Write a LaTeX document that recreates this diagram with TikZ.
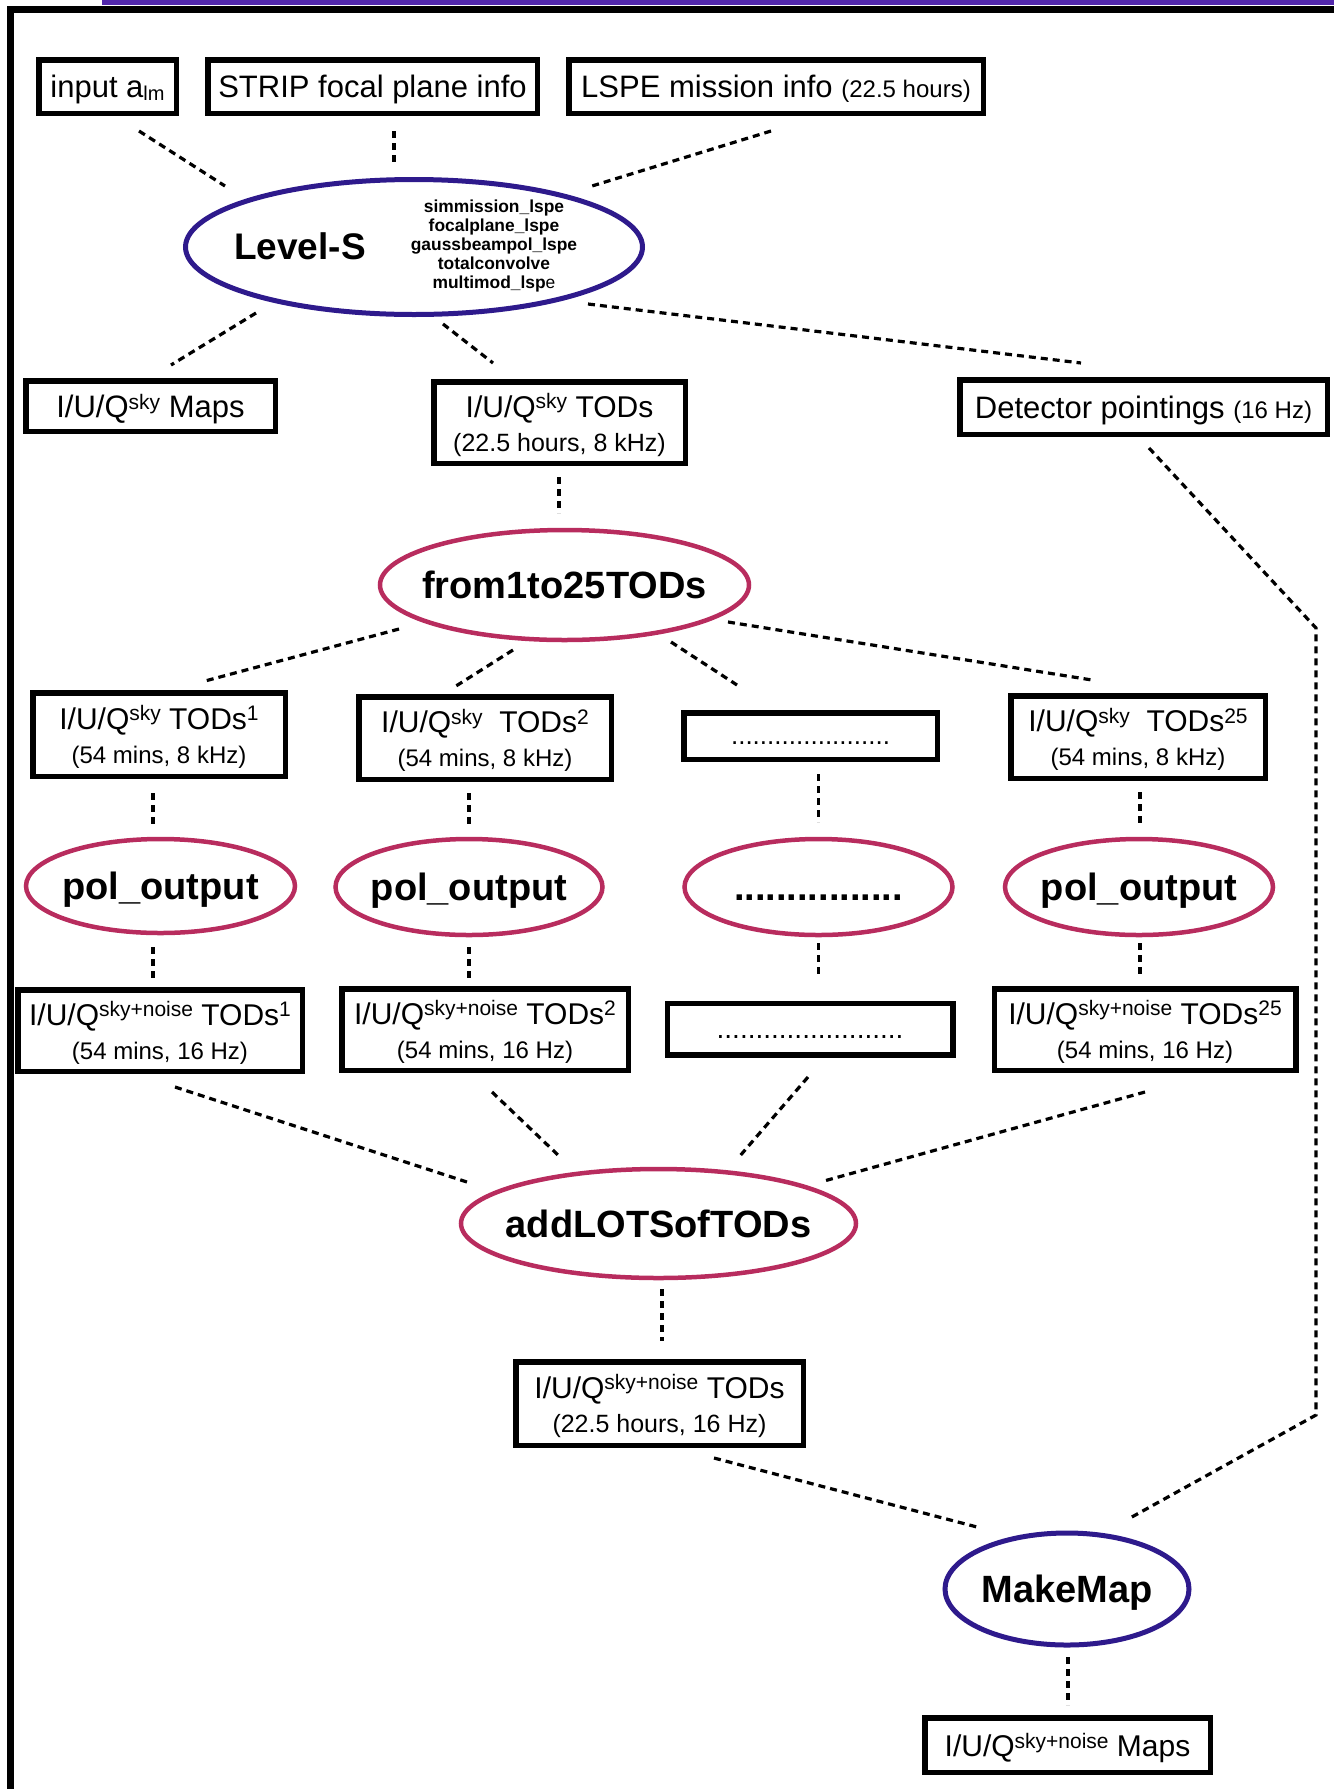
\documentclass[tikz,border=0pt]{standalone}
\usepackage{fontspec}
\setmainfont{Liberation Sans}
\usetikzlibrary{shapes.geometric,calc}
\definecolor{lsblue}{RGB}{46,26,140}
\definecolor{lsred}{RGB}{184,44,94}
\definecolor{lsbar}{RGB}{82,40,172}
\newcommand\fsz[1]{\fontsize{#1}{#1}\selectfont}
\newcommand\supx[1]{\raisebox{0.28em}{\fontsize{21}{21}\selectfont #1}}
\newcommand\subx[1]{\raisebox{-0.1em}{\fontsize{20}{20}\selectfont #1}}
\begin{document}
\begin{tikzpicture}[x=1pt,y=-1pt,
  box/.style={draw=black, line width=5.5pt, inner sep=0pt, align=center, text depth=0pt, font=\fontsize{30}{34}\selectfont},
  topbox/.style={box, font=\fontsize{31}{34}\selectfont},
  ellb/.style={ellipse, draw=lsblue, line width=5pt, inner sep=0pt, text depth=0pt, font=\bfseries\fontsize{38}{38}\selectfont},
  ellr/.style={ellipse, draw=lsred, line width=4.5pt, inner sep=0pt, text depth=0pt, font=\bfseries\fontsize{38}{38}\selectfont},
  conn/.style={line width=3.2pt, dash pattern=on 7pt off 5pt},
  lab/.style={inner sep=0pt, align=center}]

\useasboundingbox (0,0) rectangle (1334,1789);
\fill[lsbar] (102,0) rectangle (1334,4.5);
\draw[line width=7pt] (10.5,1789) -- (10.5,9.5) -- (1334,9.5);

% top row
\node[topbox, minimum width=137.5pt, minimum height=53.5pt] (inp) at (107.5,86.5) {input a\subx{lm}};
\node[topbox, minimum width=329.5pt, minimum height=53.5pt] (strip) at (372.5,86.5) {STRIP focal plane info};
\node[topbox, minimum width=414.5pt, minimum height=53.5pt] (lspe) at (776,86.5) {LSPE mission info {\fsz{24}(22.5 hours)}};

% Level-S
\node[ellb, minimum width=457pt, minimum height=135pt] (levs) at (414,247) {};
\node[lab, font=\bfseries\fsz{37}] (levtitle) at ($(levs)+(-114,-1)$) {Level-S};
\node[lab, font=\bfseries\fontsize{17.4}{19}\selectfont] (levlist) at ($(levs)+(80,-1)$)
  {simmission\_lspe\\focalplane\_lspe\\gaussbeampol\_lspe\\totalconvolve\\multimod\_lsp{\mdseries e}};

% second row
\node[topbox, minimum width=249.5pt, minimum height=50.5pt] (maps) at (150.5,406) {I/U/Q\supx{sky} Maps};
\node[box, minimum width=251.5pt, minimum height=81.5pt] (todsA) at (559.5,422.5) {I/U/Q\supx{sky} TODs\\{\fsz{25}(22.5 hours, 8 kHz)}};
\node[topbox, minimum width=367.5pt, minimum height=54.5pt] (det) at (1143.5,407) {Detector pointings {\fsz{24}(16 Hz)}};

% from1to25TODs
\node[ellr, minimum width=369pt, minimum height=110pt] (f25) at (564.5,585) {\makebox[0pt]{from1to25TODs}};

% split TODs
\node[box, minimum width=252.5pt, minimum height=83.5pt] (t1) at (159,734.5) {I/U/Q\supx{sky} TODs\supx{1}\\{\fsz{24}(54 mins, 8 kHz)}};
\node[box, minimum width=252.5pt, minimum height=82.5pt] (t2) at (485,738) {I/U/Q\supx{sky}\ \ TODs\supx{2}\\{\fsz{24}(54 mins, 8 kHz)}};
\node[box, minimum width=253.5pt, minimum height=46.5pt] (tdots) at (810.5,736) {\fsz{26}\vphantom{Ag}......................};
\node[box, minimum width=254.5pt, minimum height=82.5pt] (t25) at (1138,737) {I/U/Q\supx{sky}\ \ TODs\supx{25}\\{\fsz{24}(54 mins, 8 kHz)}};

% pol_output
\node[ellr, minimum width=269pt, minimum height=94pt] (p1) at (160.5,886) {\makebox[0pt]{pol\_output}};
\node[ellr, minimum width=267pt, minimum height=96pt] (p2) at (469,887) {\makebox[0pt]{pol\_output}};
\node[ellr, minimum width=268pt, minimum height=96pt] (pdots) at (818.5,887) {\makebox[0pt]{\vphantom{pol}................}};
\node[ellr, minimum width=268pt, minimum height=96pt] (p25) at (1139,887) {\makebox[0pt]{pol\_output}};

% noise TODs
\node[box, minimum width=284.5pt, minimum height=81.5pt] (n1) at (160,1030.5) {I/U/Q\supx{sky+noise} TODs\supx{1}\\{\fsz{24}(54 mins, 16 Hz)}};
\node[box, minimum width=286.5pt, minimum height=81.5pt] (n2) at (485,1029.5) {I/U/Q\supx{sky+noise} TODs\supx{2}\\{\fsz{24}(54 mins, 16 Hz)}};
\node[box, minimum width=285.5pt, minimum height=51.5pt] (ndots) at (810,1029) {\fsz{28}\vphantom{Ag}........................};
\node[box, minimum width=301.5pt, minimum height=81.5pt] (n25) at (1145,1029.5) {I/U/Q\supx{sky+noise} TODs\supx{25}\\{\fsz{24}(54 mins, 16 Hz)}};

% addLOTSofTODs
\node[ellr, minimum width=395pt, minimum height=109pt] (add) at (658.5,1223.5) {\makebox[0pt]{addLOTSofTODs}};
\node[box, minimum width=287.5pt, minimum height=83.5pt] (nall) at (659.5,1403.5) {I/U/Q\supx{sky+noise} TODs\\{\fsz{25}(22.5 hours, 16 Hz)}};

% MakeMap
\node[ellb, minimum width=244pt, minimum height=112pt] (mm) at (1067,1589) {\makebox[0pt]{MakeMap}};
\node[box, minimum width=285.5pt, minimum height=54.5pt] (maps2) at (1067.5,1745) {I/U/Q\supx{sky+noise} Maps};

% connectors
\draw[conn] ($(inp)+(31.5,44.5)$) -- ($(levs)+(-189,-61)$);
\draw[conn] ($(strip)+(21.5,44.5)$) -- ($(levs)+(-20,-82)$);
\draw[conn] ($(lspe)+(-5,44.5)$) -- ($(levs)+(178,-61)$);
\draw[conn] ($(levs)+(-158,66)$) -- ($(maps)+(20.5,-41)$);
\draw[conn] ($(levs)+(29,77)$) -- ($(todsA)+(-66.5,-59.5)$);
\draw[conn] ($(levs)+(174,57)$) -- ($(det)+(-62.5,-44)$);
\draw[conn] ($(todsA)+(-0.5,54.5)$) -- ($(f25)+(-5.5,-72)$);
\draw[conn] ($(f25)+(-165.5,44)$) -- ($(t1)+(46,-53.5)$);
\draw[conn] ($(f25)+(-51.5,65)$) -- ($(t2)+(-29,-52)$);
\draw[conn] ($(f25)+(106.5,57)$) -- ($(tdots)+(-73.5,-51)$);
\draw[conn] ($(f25)+(163.5,37)$) -- ($(t25)+(-46,-57)$);
\draw[conn] ($(t1)+(-6,58.5)$) -- ($(p1)+(-7.5,-59)$);
\draw[conn] ($(p1)+(-7.5,61)$) -- ($(n1)+(-7,-50.5)$);
\draw[conn] ($(t2)+(-16,55)$) -- ($(p2)+(0,-60)$);
\draw[conn] ($(p2)+(0,60)$) -- ($(n2)+(-16,-49.5)$);
\draw[conn] ($(tdots)+(8,38)$) -- ($(pdots)+(0,-65)$);
\draw[conn] ($(pdots)+(0,56)$) -- ($(ndots)+(8.5,-52)$);
\draw[conn] ($(t25)+(2,55)$) -- ($(p25)+(1,-62)$);
\draw[conn] ($(p25)+(1,56)$) -- ($(n25)+(-5,-52.5)$);
\draw[conn] ($(n1)+(15,56.5)$) -- ($(add)+(-188.5,-40.5)$);
\draw[conn] ($(n2)+(7,62.5)$) -- ($(add)+(-100.5,-68.5)$);
\draw[conn] ($(ndots)+(-2,48)$) -- ($(add)+(80.5,-66.5)$);
\draw[conn] ($(n25)+(0,62.5)$) -- ($(add)+(165.5,-42.5)$);
\draw[conn] ($(add)+(3.5,65.5)$) -- ($(nall)+(2.5,-62.5)$);
\draw[conn] ($(nall)+(54.5,54.5)$) -- ($(mm)+(-90,-62)$);
\coordinate (bendA) at (1316,628);
\coordinate (bendB) at (1316,1415);
\draw[conn] ($(det)+(5.5,41)$) -- (bendA) -- (bendB) -- ($(mm)+(63,-71)$);
\draw[conn] ($(mm)+(1,68)$) -- ($(maps2)+(0.5,-40)$);
\end{tikzpicture}
\end{document}
